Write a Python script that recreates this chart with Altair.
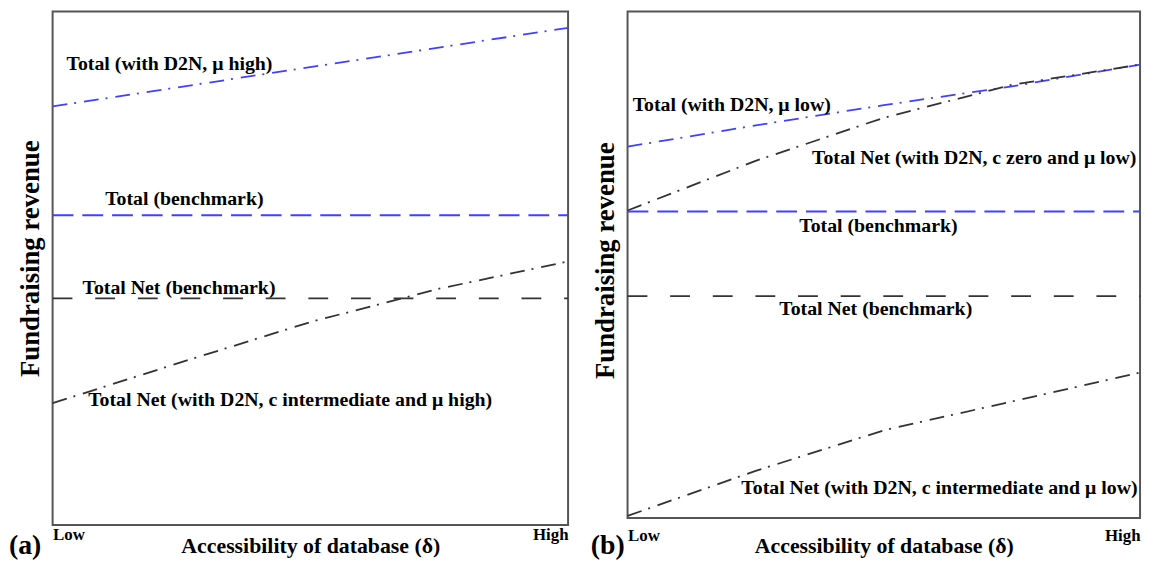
import altair as alt
import pandas as pd

FONT = "Liberation Serif"

# ---------------- data ----------------
x5 = [0.0, 0.25, 0.5, 0.75, 1.0]
x2 = [0.0, 1.0]

# panel (a)
a_total_d2n = [81.5, 96.8]            # Total (with D2N, mu high)
a_total_bench = [60.3, 60.3]          # Total (benchmark)
a_net_bench = [44.1, 44.1]            # Total Net (benchmark)
a_net_d2n = [23.7, 31.7, 39.5, 46.0, 51.3]  # Total Net (with D2N, c intermediate, mu high)

# panel (b)
b_total_d2n = [73.3, 77.5, 81.5, 85.2, 89.5]   # Total (with D2N, mu low)
b_net_zero = [60.7, 70.5, 79.0, 85.5, 89.5]    # Total Net (with D2N, c zero, mu low)
b_total_bench = [60.5, 60.5]
b_net_bench = [43.8, 43.8]
b_net_int = [0.4, 9.3, 17.3, 23.0, 28.7]       # Total Net (with D2N, c intermediate, mu low)

a_labels = ["Total (with D2N, μ high)", "Total (benchmark)", "Total Net (benchmark)",
            "Total Net (with D2N, c intermediate and μ high)"]
a_label_x = [0.027, 0.102, 0.058, 0.069]
a_label_y = [89.8, 63.5, 46.2, 24.4]

b_labels = ["Total (with D2N, μ low)", "Total Net (with D2N, c zero and μ low)",
            "Total (benchmark)", "Total Net (benchmark)",
            "Total Net (with D2N, c intermediate and μ low)"]
b_label_x = [0.01, 0.36, 0.335, 0.296, 0.222]
b_label_y = [81.6, 71.1, 57.6, 41.3, 6.0]

BLUE = "#4040ff"
DARK = "#333333"
DASHDOT = [15, 7, 2, 8]
BLUEDASH = [21, 9]
BLACKDASH = [20, 23]


def panel(series, labels, lx, ly, letter, width, height, title_y, label_pad, xtitle_y, letter_dx, letter_dy):
    xscale = alt.Scale(domain=[0, 1], nice=False, zero=False)
    yscale = alt.Scale(domain=[0, 100], nice=False, zero=False)
    xaxis = alt.Axis(values=[0, 1], labelExpr="datum.value == 0 ? 'Low' : 'High'",
                     labelFlush=True, ticks=False, domain=False, grid=False,
                     labelFont=FONT, labelFontSize=17, labelFontWeight="bold", labelColor="black",
                     labelPadding=label_pad,
                     title="Accessibility of database (δ)", titleFont=FONT, titleFontSize=22,
                     titleFontWeight="bold", titleColor="black", titleY=xtitle_y,
                     titleBaseline="alphabetic")
    yaxis = alt.Axis(labels=False, ticks=False, domain=False, grid=False,
                     title="Fundraising revenue", titleFont=FONT, titleFontSize=27,
                     titleFontWeight="bold", titleColor="black", titlePadding=8, titleY=title_y)
    layers = []
    for xs, ys, color, dash in series:
        df = pd.DataFrame({"x": xs, "y": ys})
        layers.append(
            alt.Chart(df).mark_line(color=color, strokeDash=dash, strokeWidth=1.8)
            .encode(x=alt.X("x:Q", scale=xscale, axis=xaxis),
                    y=alt.Y("y:Q", scale=yscale, axis=yaxis))
        )
    ldf = pd.DataFrame({"x": lx, "y": ly, "t": labels})
    layers.append(
        alt.Chart(ldf).mark_text(font=FONT, fontSize=20, fontWeight="bold", color="black",
                                 align="left", baseline="middle")
        .encode(x=alt.X("x:Q", scale=xscale, axis=xaxis),
                y=alt.Y("y:Q", scale=yscale, axis=yaxis), text="t:N")
    )
    tdf = pd.DataFrame({"t": [letter]})
    layers.append(
        alt.Chart(tdf).mark_text(font=FONT, fontSize=28, fontWeight="bold", color="black",
                                 align="left", baseline="alphabetic")
        .encode(x=alt.value(letter_dx), y=alt.value(height + letter_dy), text="t:N")
    )
    return alt.layer(*layers).properties(width=width, height=height)


left = panel(
    [(x2, a_total_d2n, BLUE, DASHDOT), (x2, a_total_bench, BLUE, BLUEDASH),
     (x2, a_net_bench, DARK, BLACKDASH), (x5, a_net_d2n, DARK, DASHDOT)],
    a_labels, a_label_x, a_label_y, "(a)", 520, 518, 249, 2, 28, -44, 29)

right = panel(
    [(x5, b_total_d2n, BLUE, DASHDOT), (x5, b_net_zero, DARK, DASHDOT),
     (x2, b_total_bench, BLUE, BLUEDASH), (x2, b_net_bench, DARK, BLACKDASH),
     (x5, b_net_int, DARK, DASHDOT)],
    b_labels, b_label_x, b_label_y, "(b)", 517, 511, 251, 10, 35, -37, 36)

chart = (alt.hconcat(left, right, spacing=17)
         .properties(padding=0, background="white")
         .configure_view(stroke="#555555", strokeWidth=2))

chart.save("out.html", embed_options={"renderer": "svg", "actions": False})
